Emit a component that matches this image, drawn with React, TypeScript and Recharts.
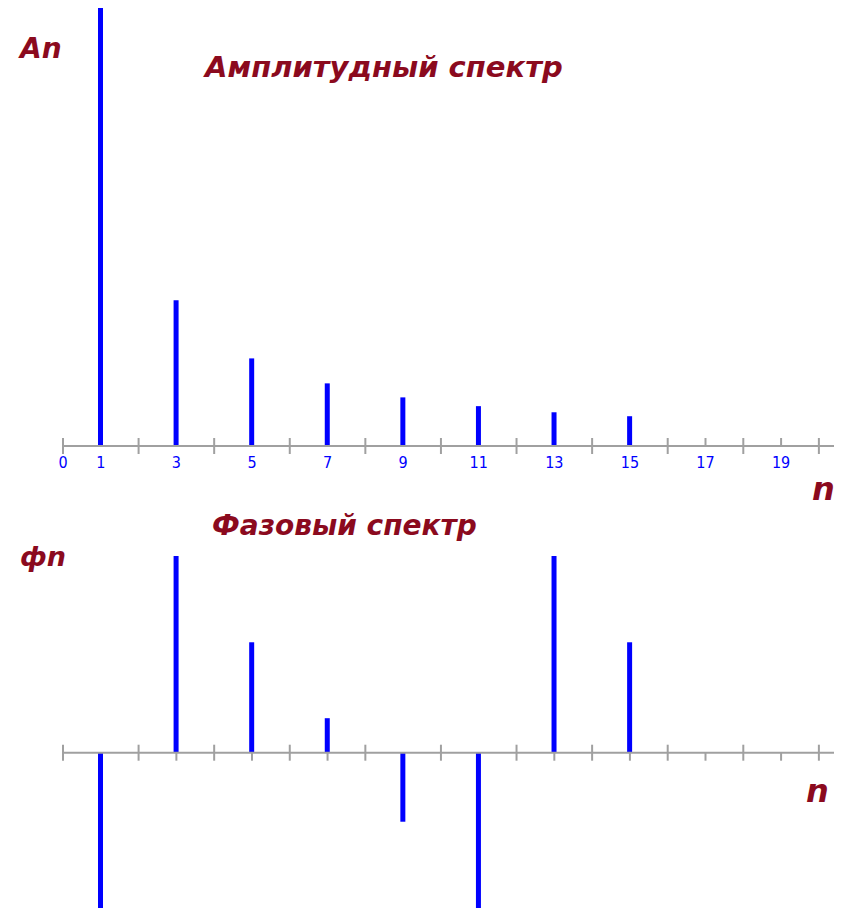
import { BarChart, Bar, XAxis, YAxis, ReferenceLine, ReferenceDot } from 'recharts';

// номера гармоник (только нечётные)
const harmonics = [1, 3, 5, 7, 9, 11, 13, 15];
// амплитуды An (относительно первой гармоники)
const amplitudes = [1, 0.333, 0.2, 0.143, 0.111, 0.091, 0.077, 0.068];
// фазы фn, градусы
const phases = [-90, 114, 64, 20, -40, -90, 114, 64];
// положения делений оси и подписи
const tickPositions = Array.from({ length: 21 }, (_, i) => i);
const tickLabels = ['0', '1', '3', '5', '7', '9', '11', '13', '15', '17', '19'];

const ampData = harmonics.map((n, i) => ({ n, value: amplitudes[i] }));
const phaseData = harmonics.map((n, i) => ({ n, value: phases[i] }));

const AXIS = '#a0a0a0';
const BLUE = '#0000ff';
const RED = '#8b0a1e';
const titleFont = '"DejaVu Sans", Verdana, sans-serif';

// деление оси: чётные пересекают ось, нечётные — только с одной стороны
// (там, где деление закрыто столбиком, его не рисуем)
function tickShape(n: number, side: 'up' | 'down', withLabel: boolean, values: number[]) {
  return (props: any) => {
    const { cx, cy } = props;
    const even = n % 2 === 0;
    const idx = harmonics.indexOf(n);
    const v = idx >= 0 ? values[idx] : 0;
    const covered = !even && ((side === 'up' && v > 0) || (side === 'down' && v < 0));
    const y1 = even || side === 'up' ? cy - 8 : cy;
    const y2 = even || side === 'down' ? cy + 8 : cy;
    const label = tickLabels.includes(String(n));
    return (
      <g>
        {!covered && <line x1={cx} x2={cx} y1={y1} y2={y2} stroke={AXIS} strokeWidth={2} />}
        {withLabel && label && (
          <text
            x={cx}
            y={cy + 22}
            textAnchor="middle"
            fill={BLUE}
            fontSize={16}
            fontFamily='"Liberation Sans Narrow", "DejaVu Sans Condensed", sans-serif'
          >
            {n}
          </text>
        )}
      </g>
    );
  };
}

export default function App() {
  return (
    <div style={{ position: 'absolute', left: 0, top: 0, width: 842, height: 912, background: '#fff' }}>
      <div style={{ position: 'absolute', left: 0, top: 0 }}>
        <BarChart width={842} height={480} data={ampData} margin={{ top: 8, right: 8, bottom: 34, left: 63 }}>
          <XAxis dataKey="n" type="number" domain={[0, 20.4]} hide />
          <YAxis type="number" domain={[0, 1]} hide />
          <ReferenceLine y={0} stroke={AXIS} strokeWidth={2} />
          {tickPositions.map((n) => (
            <ReferenceDot key={n} x={n} y={0} r={0} shape={tickShape(n, 'up', true, amplitudes)} />
          ))}
          <Bar dataKey="value" fill={BLUE} barSize={5} isAnimationActive={false} />
        </BarChart>
      </div>
      <div style={{ position: 'absolute', left: 0, top: 480 }}>
        <BarChart width={842} height={432} data={phaseData} margin={{ top: 76, right: 8, bottom: 4, left: 63 }}>
          <XAxis dataKey="n" type="number" domain={[0, 20.4]} hide />
          <YAxis type="number" domain={[-90, 114]} hide />
          <ReferenceLine y={0} stroke={AXIS} strokeWidth={2} />
          {tickPositions.map((n) => (
            <ReferenceDot key={n} x={n} y={0} r={0} shape={tickShape(n, 'down', false, phases)} />
          ))}
          <Bar dataKey="value" fill={BLUE} barSize={5} isAnimationActive={false} />
        </BarChart>
      </div>
      <svg width={842} height={912} style={{ position: 'absolute', left: 0, top: 0, pointerEvents: 'none' }}>
        <g fill={RED} fontFamily={titleFont} fontWeight="bold" fontStyle="italic">
          <text x={20} y={58} fontSize={28}>An</text>
          <text x={205} y={77} fontSize={29}>Амплитудный спектр</text>
          <text x={812} y={500} fontSize={32}>n</text>
          <text x={212} y={535} fontSize={28}>Фазовый спектр</text>
          <text x={20} y={566} fontSize={27}>фn</text>
          <text x={806} y={802} fontSize={32}>n</text>
        </g>
      </svg>
    </div>
  );
}
